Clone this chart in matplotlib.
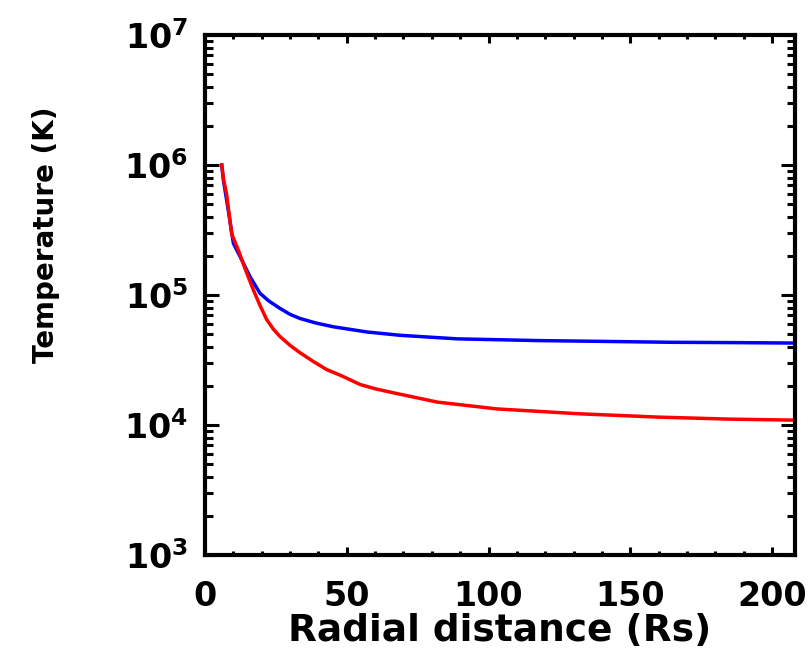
import numpy as np
import matplotlib
matplotlib.use("Agg")
import matplotlib.pyplot as plt
from matplotlib.ticker import LogLocator, MultipleLocator

# radial distance (Rs) and temperature (K)
R_BLUE = [5.9, 6.5, 8.2, 10, 12.5, 15.9, 19.4, 22.5, 26.4, 30, 33.5, 39, 45.2,
          57, 68.8, 89, 118, 140, 164, 190, 208]
T_BLUE = [1.0e6, 7.6e5, 4.5e5, 2.5e5, 1.95e5, 1.38e5, 1.03e5, 9.0e4, 7.9e4,
          7.1e4, 6.6e4, 6.1e4, 5.7e4, 5.2e4, 4.9e4, 4.6e4, 4.46e4, 4.4e4,
          4.33e4, 4.3e4, 4.27e4]

R_RED = [5.9, 6.5, 7.6, 8.5, 9.4, 11.8, 14.1, 17, 19.3, 21.7, 24, 26.4, 30,
         33.5, 38, 42.9, 48, 54.7, 60, 66.4, 82, 103, 132, 160, 185, 208]
T_RED = [1.0e6, 7.8e5, 6.0e5, 4.2e5, 2.95e5, 2.2e5, 1.6e5, 1.1e5, 8.4e4,
         6.5e4, 5.5e4, 4.8e4, 4.1e4, 3.6e4, 3.1e4, 2.67e4, 2.4e4, 2.05e4,
         1.9e4, 1.77e4, 1.5e4, 1.33e4, 1.22e4, 1.15e4, 1.11e4, 1.09e4]

X_TICKS = [0, 50, 100, 150, 200]

plt.rcParams["font.family"] = ["DejaVu Sans"]
plt.rcParams["font.weight"] = "bold"
plt.rcParams["axes.labelweight"] = "bold"
plt.rcParams["mathtext.default"] = "bf"

fig = plt.figure(figsize=(8.11, 6.62), dpi=100)
ax = fig.add_axes([0.2528, 0.1616, 0.7272, 0.7855])

ax.plot(R_BLUE, T_BLUE, color="#0000ff", lw=2.5)
ax.plot(R_RED, T_RED, color="#ff0000", lw=2.5)

ax.set_yscale("log")
ax.set_xlim(0, 208)
ax.set_ylim(1e3, 1e7)
ax.set_xticks(X_TICKS)
ax.xaxis.set_minor_locator(MultipleLocator(10))
ax.yaxis.set_major_locator(LogLocator(base=10, numticks=10))
ax.yaxis.set_minor_locator(LogLocator(base=10, subs=np.arange(2, 10), numticks=10))

for s in ax.spines.values():
    s.set_linewidth(3)
ax.tick_params(which="both", direction="in", top=True, right=True, width=2.2,
               labelsize=24)
ax.tick_params(axis="x", which="major", length=6, pad=18)
ax.tick_params(axis="x", which="minor", length=3)
ax.tick_params(axis="y", which="major", length=10, pad=12)
ax.tick_params(axis="y", which="minor", length=5.5)

ax.set_xlabel("Radial distance (Rs)", fontsize=27, labelpad=0)
ax.set_ylabel("Temperature (K)", fontsize=20, va="center")
ax.yaxis.set_label_coords(-0.27, 0.615)

fig.savefig("out.png", dpi=100)
